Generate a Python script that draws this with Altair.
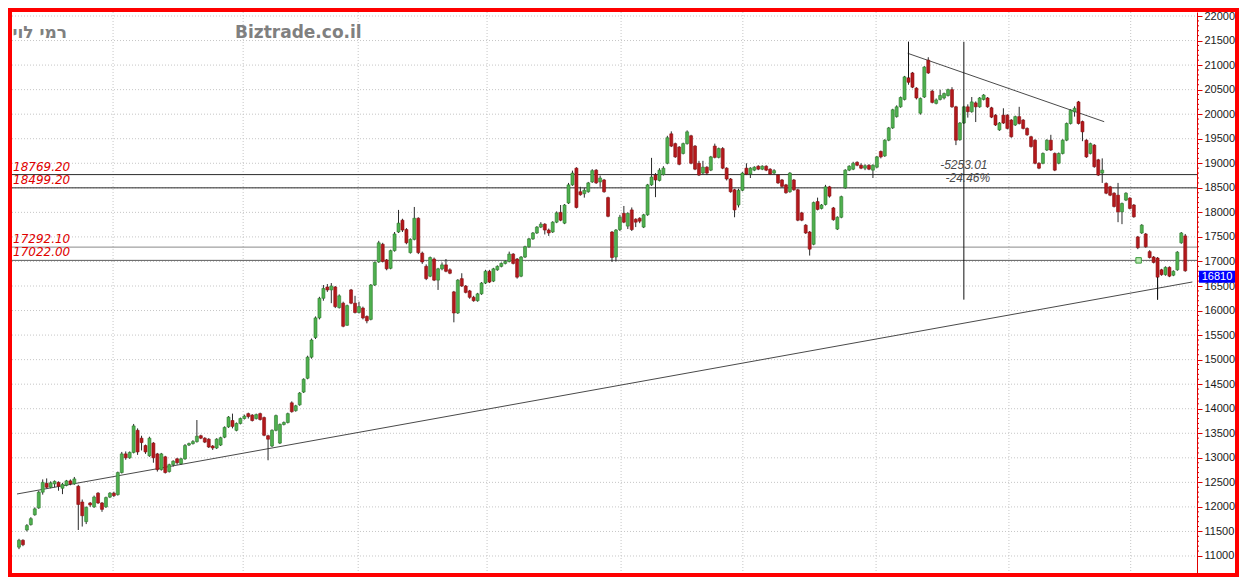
import altair as alt
import pandas as pd

# ---------------- data ----------------
OPEN = [
    11180, 11320, 11530, 11640, 11840, 11980, 12300, 12480, 12400, 12470,
    12500, 12380, 12440, 12530, 12470, 12420, 12100, 11700, 12080, 12000,
    12280, 12080, 12000, 12200, 12280, 12250, 12700, 13080, 13000, 13110,
    13560, 13400, 13250, 13040, 13300, 13080, 12760, 13020, 12720, 12860,
    12980, 12880, 12980, 13260, 13290, 13330, 13450, 13400, 13380, 13240,
    13200, 13260, 13420, 13630, 13760, 13560, 13700, 13800, 13900, 13870,
    13800, 13900, 13820, 13450, 13240, 13560, 13300, 13680, 13720, 14120,
    13960, 14080, 14340, 14620, 15050, 15450, 15850, 16250, 16480, 16420,
    16480, 16060, 16150, 15700, 16420, 16150, 15960, 16050, 15880, 15820,
    16520, 16990, 17350, 17030, 16860, 17220, 17600, 17840, 17650, 17180,
    17450, 17880, 17170, 16900, 16700, 17050, 16620, 16850, 16930, 16830,
    16380, 15950, 16650, 16500, 16400, 16270, 16200, 16340, 16560, 16800,
    16600, 16830, 16900, 16960, 17000, 17150, 17050, 16700, 17090, 17300,
    17460, 17580, 17700, 17760, 17640, 17600, 17800, 18000, 17780, 18190,
    18560, 18900, 18420, 18380, 18420, 18620, 18860, 18620, 18660, 18300,
    17600, 17090, 17650, 17980, 17720, 18050, 17860, 17880, 17700, 17950,
    18560, 18760, 18650, 18770, 19000, 19600, 19400, 19330, 19200, 19400,
    19560, 19350, 19000, 18800, 18920, 18860, 19350, 19120, 19300, 18900,
    18680, 18460, 18150, 18450, 18900, 18780, 18860, 18940, 18880, 18940,
    18880, 18800, 18760, 18660, 18560, 18420, 18660, 18460, 17990, 17740,
    17600, 17350, 18220, 18080, 18160, 18520, 18090, 17660, 17900, 18500,
    18860, 18880, 19020, 18960, 18900, 18960, 18860, 18920, 19240, 19150,
    19470, 19720, 19950, 20150, 20300, 20740, 20840, 20530, 20020, 20350,
    21100, 20470, 20220, 20300, 20330, 20380, 20500, 20150, 19480, 19820,
    20150, 20050, 20230, 20150, 20300, 20330, 20130, 19980, 19680, 19980,
    19980, 19880, 19780, 19950, 19880, 19710, 19540, 19470, 19000, 19000,
    19270, 19470, 19200, 19000, 19200, 19470, 19810, 20050, 20250, 19850,
    19470, 19200, 19370, 19070, 18800, 18590, 18520, 18390, 18350, 18010,
    18250, 18290, 18150, 17500, 17580, 17560, 17200, 17090, 17070, 16830,
    16730, 16880, 16720, 16830, 17380, 17520,
]
CLOSE = [
    11320, 11230, 11620, 11760, 11960, 12300, 12500, 12400, 12490, 12520,
    12420, 12460, 12530, 12470, 12570, 12050, 11820, 11990, 12040, 12200,
    12080, 11950, 12190, 12280, 12230, 12700, 13080, 13000, 13110, 13650,
    13120, 13310, 13120, 13400, 13000, 12760, 13080, 12700, 12860, 12930,
    12900, 12980, 13250, 13290, 13330, 13440, 13400, 13320, 13220, 13200,
    13380, 13410, 13620, 13830, 13640, 13700, 13800, 13850, 13840, 13760,
    13880, 13780, 13460, 13380, 13560, 13860, 13680, 13720, 13900, 13940,
    14060, 14320, 14600, 15050, 15400, 15850, 16250, 16450, 16420, 16500,
    16080, 16300, 15680, 16100, 16150, 15960, 16080, 15850, 15790, 16520,
    16980, 17380, 17000, 16850, 17220, 17560, 17780, 17640, 17380, 17450,
    17880, 17180, 16990, 16650, 17080, 16620, 16850, 16930, 16800, 16760,
    15950, 16620, 16500, 16370, 16270, 16200, 16340, 16560, 16800, 16580,
    16850, 16900, 16960, 17000, 17150, 16960, 16680, 17090, 17300, 17460,
    17580, 17700, 17760, 17640, 17580, 17800, 17990, 17840, 18150, 18560,
    18800, 18100, 18360, 18450, 18600, 18850, 18600, 18700, 18420, 17920,
    17080, 17640, 17900, 17800, 17980, 17650, 17800, 17820, 17950, 18560,
    18720, 18660, 18860, 18900, 19520, 19350, 19130, 18980, 19400, 19640,
    19000, 18880, 18760, 18920, 18800, 19130, 19120, 19300, 18900, 18680,
    18420, 18050, 18450, 18800, 18780, 18900, 18920, 18880, 18940, 18860,
    18780, 18850, 18600, 18530, 18400, 18800, 18460, 17840, 17840, 17580,
    17250, 18200, 18060, 18150, 18520, 18330, 17850, 17900, 18320, 18860,
    18940, 19000, 18960, 18900, 18950, 18880, 18960, 19130, 19130, 19470,
    19720, 20090, 20150, 20340, 20760, 20650, 20550, 20330, 20320, 20960,
    20840, 20240, 20290, 20380, 20420, 20500, 20150, 19470, 19820, 20150,
    20050, 20250, 20150, 20330, 20390, 20150, 19940, 19780, 19820, 19820,
    19710, 19540, 19950, 19810, 19710, 19580, 19340, 19000, 18900, 19200,
    19470, 19270, 18860, 19200, 19470, 19810, 20080, 20120, 19810, 19640,
    19130, 19400, 18930, 18760, 18860, 18390, 18350, 18120, 18010, 18180,
    18390, 18080, 17910, 17280, 17740, 17300, 17080, 16980, 16680, 16730,
    16880, 16700, 16800, 17190, 17580, 16810,
]
HIGH = [
    11350, 11340, 11650, 11790, 11990, 12330, 12560, 12580, 12520, 12540,
    12520, 12490, 12550, 12560, 12610, 12450, 12150, 12010, 12100, 12230,
    12300, 12100, 12210, 12300, 12310, 12720, 13120, 13130, 13130, 13690,
    13600, 13450, 13270, 13430, 13320, 13100, 13100, 13040, 12880, 12950,
    13000, 13000, 13280, 13310, 13360, 13770, 13470, 13420, 13400, 13260,
    13400, 13430, 13640, 13850, 13900, 13720, 13820, 13880, 13920, 13890,
    13900, 13920, 13840, 13470, 13580, 13880, 13700, 13740, 13920, 14150,
    14080, 14340, 14620, 15080, 15430, 15880, 16280, 16520, 16540, 16560,
    16500, 16330, 16180, 16120, 16440, 16300, 16180, 16080, 15900, 16540,
    17000, 17420, 17380, 17050, 17240, 17600, 18050, 17870, 17680, 17470,
    18110, 17900, 17200, 16940, 17100, 17080, 16870, 16980, 17050, 16860,
    16400, 16640, 16760, 16520, 16420, 16300, 16360, 16580, 16830, 16830,
    16870, 16920, 16980, 17020, 17200, 17170, 17070, 17110, 17320, 17480,
    17600, 17720, 17800, 17780, 17670, 17820, 18020, 18150, 18170, 18600,
    18850, 18920, 18520, 18500, 18620, 18880, 18880, 18750, 18680, 18320,
    17620, 17660, 17950, 18130, 18000, 18100, 17880, 17900, 17970, 18580,
    19110, 18800, 18900, 18940, 19560, 19650, 19420, 19350, 19420, 19670,
    19580, 19370, 19050, 19050, 18940, 19150, 19400, 19320, 19330, 18920,
    18700, 18480, 18480, 18820, 19000, 18920, 18940, 18960, 18960, 18960,
    18900, 18880, 18780, 18680, 18580, 18820, 18680, 18480, 18010, 17760,
    17620, 18220, 18300, 18170, 18560, 18540, 18110, 17920, 18340, 18880,
    18960, 19030, 19040, 19000, 18980, 18980, 18980, 19150, 19260, 19490,
    19740, 20110, 20180, 20360, 20780, 21475, 20860, 20550, 20340, 20980,
    21160, 20500, 20320, 20500, 20440, 20520, 20550, 20170, 19840, 20170,
    20200, 20350, 20260, 20350, 20410, 20350, 20150, 20000, 19840, 20120,
    20000, 19900, 19970, 20150, 19900, 19730, 19560, 19490, 19020, 19220,
    19490, 19580, 19220, 19220, 19490, 19830, 20100, 20160, 20270, 19870,
    19490, 19420, 19390, 19090, 19100, 18610, 18540, 18410, 18600, 18200,
    18410, 18310, 18170, 17520, 17760, 17580, 17230, 17110, 17090, 16850,
    16900, 16900, 16820, 17210, 17600, 17560,
]
LOW = [
    11140, 11200, 11500, 11620, 11820, 11960, 12250, 12380, 12380, 12400,
    12330, 12260, 12420, 12440, 12450, 11530, 11600, 11650, 12000, 11980,
    12060, 11900, 11980, 12180, 12200, 12230, 12680, 12960, 12980, 13090,
    13060, 13150, 13080, 13020, 12900, 12720, 12740, 12680, 12700, 12820,
    12860, 12860, 12960, 13240, 13270, 13310, 13380, 13300, 13200, 13160,
    13180, 13240, 13400, 13610, 13600, 13540, 13680, 13780, 13800, 13740,
    13780, 13760, 13440, 12950, 13220, 13540, 13280, 13660, 13700, 13920,
    13940, 14060, 14320, 14600, 15020, 15420, 15820, 16200, 16380, 16150,
    16050, 16040, 15660, 15690, 16130, 15940, 15940, 15820, 15740, 15800,
    16500, 16970, 16980, 16820, 16840, 17200, 17580, 17600, 17350, 17160,
    17430, 17150, 16950, 16620, 16680, 16600, 16420, 16820, 16780, 16740,
    15760, 15930, 16480, 16350, 16240, 16180, 16180, 16320, 16540, 16560,
    16580, 16810, 16880, 16940, 16980, 16940, 16650, 16680, 17070, 17280,
    17440, 17560, 17680, 17550, 17520, 17580, 17780, 17820, 17760, 18170,
    18540, 18080, 18340, 18300, 18400, 18600, 18580, 18520, 18400, 17900,
    16990, 17000, 17620, 17780, 17660, 17620, 17700, 17780, 17680, 17930,
    18540, 18310, 18630, 18750, 18980, 19330, 19110, 18960, 19180, 19380,
    18980, 18860, 18740, 18780, 18760, 18840, 19100, 19100, 18880, 18650,
    18400, 17900, 18100, 18430, 18760, 18700, 18840, 18860, 18860, 18840,
    18760, 18780, 18580, 18500, 18380, 18400, 18440, 17820, 17820, 17560,
    17120, 17330, 18040, 18060, 18140, 18300, 17830, 17640, 17880, 18480,
    18840, 18860, 18940, 18880, 18860, 18860, 18700, 18900, 19100, 19130,
    19450, 19700, 19930, 20130, 20280, 20600, 20530, 20300, 19990, 20330,
    20820, 20220, 20200, 20280, 20300, 20360, 20130, 19370, 19460, 19800,
    19930, 20030, 19840, 20130, 20280, 20130, 19920, 19760, 19660, 19800,
    19690, 19520, 19760, 19790, 19690, 19560, 19320, 18980, 18880, 18980,
    19250, 19250, 18840, 18980, 19180, 19450, 19790, 19950, 19790, 19450,
    19110, 19180, 18910, 18740, 18600, 18370, 18330, 18100, 17800, 17760,
    18230, 18060, 17890, 17250, 17560, 17280, 17060, 16960, 16222, 16710,
    16710, 16680, 16700, 16810, 17360, 16790,
]

Y_TICKS = [11000, 11500, 12000, 12500, 13000, 13500, 14000, 14500, 15000, 15500, 16000,
           16500, 17000, 17500, 18000, 18500, 19000, 19500, 20000, 20500, 21000, 21500, 22000]
MINOR_STEP = 100
PERIOD_BREAKS = [23.8, 56.7, 85.8, 118.4, 152.3, 183.1, 216.8, 250.4, 281.2]

LEVELS = [18769.20, 18499.20, 17292.10, 17022.00]
LEVEL_TEXT = ["18769.20", "18499.20", "17292.10", "17022.00"]

UP_TREND_I = [-0.5, 296.8]
UP_TREND_V = [12263, 16582]
DOWN_TREND_I = [224.8, 274.5]
DOWN_TREND_V = [21240, 19847]

MEASURE_I = 239
MEASURE_HIGH = 21475.0
MEASURE_LOW = 16222.0
MEASURE_DIFF = "-5253.01"
MEASURE_PCT = "-24.46%"
EXTREME_I = [225, 288]
EXTREME_FROM = [21475, 16680]
EXTREME_TO = [20740, 16222]

MARKER_I = 283.2
MARKER_V = 17022.0
LAST_PRICE = 16810

NAME_TEXT = "רמי לוי"
SITE_TEXT = "Biztrade.co.il"

# ---------------- layout ----------------
W, H = 1223, 561
AXIS_X = 1185
xs = alt.Scale(domain=[-0.502, 306.32], nice=False, zero=False)
ys = alt.Scale(domain=[10653.7, 22081.5], nice=False, zero=False)

AX = alt.Axis(
    orient="right", offset=AXIS_X - W, values=Y_TICKS, format="d", grid=False,
    domainColor="#e00000", domainWidth=1, tickColor="#e00000", tickSize=5,
    labelFont="Liberation Sans", labelFontSize=11, labelColor="#1a1a1a",
    labelPadding=2, labelFlush=False, title=None)

UP_FILL, UP_EDGE = "#4fb04f", "#2c7a2c"
DN_FILL, DN_EDGE = "#b3191c", "#8c0d10"

candles = pd.DataFrame({
    "i": list(range(len(OPEN))),
    "open": OPEN, "close": CLOSE, "high": HIGH, "low": LOW,
})
candles["dir"] = ["up" if c >= o else "down" for o, c in zip(OPEN, CLOSE)]


def X(f):
    return alt.X(f, scale=xs, axis=None)


def Y(f):
    return alt.Y(f, scale=ys, axis=AX)


hgrid = alt.Chart(pd.DataFrame({"v": Y_TICKS})).mark_rule(
    color="#c6c6c6", strokeDash=[1, 2], strokeWidth=1
).encode(y=Y("v:Q"), x=alt.value(0), x2=alt.value(AXIS_X))

minor_vals = [v for v in range(Y_TICKS[0], Y_TICKS[-1] + 1, MINOR_STEP) if v not in Y_TICKS]
minor = alt.Chart(pd.DataFrame({"v": minor_vals})).mark_rule(
    color="#e00000", strokeWidth=1
).encode(y=Y("v:Q"), x=alt.value(AXIS_X), x2=alt.value(AXIS_X + 2))

vgrid = alt.Chart(pd.DataFrame({"i": PERIOD_BREAKS})).mark_rule(
    color="#c6c6c6", strokeDash=[1, 2], strokeWidth=1
).encode(x=X("i:Q"), y=alt.value(0), y2=alt.value(H))

lv = pd.DataFrame({"v": LEVELS, "t": LEVEL_TEXT})
level_lines = alt.Chart(lv).mark_rule().encode(
    y=Y("v:Q"), x=alt.value(0), x2=alt.value(AXIS_X),
    color=alt.Color("t:N", scale=alt.Scale(domain=LEVEL_TEXT,
                    range=["#2a2a2a", "#2a2a2a", "#8a8a8a", "#5a5a5a"]), legend=None),
    strokeWidth=alt.StrokeWidth("t:N", scale=alt.Scale(domain=LEVEL_TEXT,
                                range=[1, 1, 2, 1.6]), legend=None),
)
level_text = alt.Chart(lv).mark_text(
    font="DejaVu Sans", fontStyle="italic", fontSize=12, color="#e00000",
    align="left", baseline="alphabetic", dy=-4
).encode(x=alt.value(1), y=Y("v:Q"), text="t:N")

trends = pd.DataFrame({
    "i": UP_TREND_I + DOWN_TREND_I,
    "v": UP_TREND_V + DOWN_TREND_V,
    "k": ["up", "up", "down", "down"],
})
trend_lines = alt.Chart(trends).mark_line(color="#4a4a4a", strokeWidth=1).encode(
    x=X("i:Q"), y=Y("v:Q"), detail="k:N")

dir_scale_edge = alt.Scale(domain=["up", "down"], range=[UP_EDGE, DN_EDGE])
dir_scale_fill = alt.Scale(domain=["up", "down"], range=[UP_FILL, DN_FILL])

wicks = alt.Chart(candles).mark_rule(strokeWidth=1).encode(
    x=X("i:Q"), y=Y("low:Q"), y2="high:Q",
    color=alt.Color("dir:N", scale=dir_scale_edge, legend=None))

bodies = alt.Chart(candles).mark_bar(width=3, strokeWidth=0.6).encode(
    x=X("i:Q"), y=Y("open:Q"), y2="close:Q",
    fill=alt.Fill("dir:N", scale=dir_scale_fill, legend=None),
    stroke=alt.Stroke("dir:N", scale=dir_scale_edge, legend=None))

measure = alt.Chart(pd.DataFrame({"i": [MEASURE_I], "a": [MEASURE_HIGH], "b": [MEASURE_LOW]})
                    ).mark_rule(color="#111111", strokeWidth=1).encode(
    x=X("i:Q"), y=Y("a:Q"), y2="b:Q")

extremes = alt.Chart(pd.DataFrame({"i": EXTREME_I, "a": EXTREME_FROM, "b": EXTREME_TO})
                     ).mark_rule(color="#111111", strokeWidth=1).encode(
    x=X("i:Q"), y=Y("a:Q"), y2="b:Q")

mid = (MEASURE_HIGH + MEASURE_LOW) / 2
mdf = pd.DataFrame({"i": [MEASURE_I], "v": [mid], "d": [MEASURE_DIFF], "p": [MEASURE_PCT]})
mtext_style = dict(font="Liberation Sans", fontStyle="italic", fontSize=12,
                   color="#4a4a4a", align="center", baseline="middle")
mtext1 = alt.Chart(mdf).mark_text(dy=-6, **mtext_style).encode(
    x=X("i:Q"), y=Y("v:Q"), text="d:N")
mtext2 = alt.Chart(mdf).mark_text(dy=7, dx=4, **mtext_style).encode(
    x=X("i:Q"), y=Y("v:Q"), text="p:N")

marker = alt.Chart(pd.DataFrame({"i": [MARKER_I], "v": [MARKER_V]})).mark_square(
    size=30, fill="#b8e6b2", stroke="#3a9a3a", strokeWidth=1, opacity=1
).encode(x=X("i:Q"), y=Y("v:Q"))

lp = pd.DataFrame({"v": [LAST_PRICE], "t": [str(LAST_PRICE)]})
price_box = alt.Chart(lp).mark_rule(color="#0000ff", strokeWidth=12, yOffset=6,
                                    strokeCap="butt").encode(
    x=alt.value(AXIS_X + 2), x2=alt.value(W), y=Y("v:Q"))
price_text = alt.Chart(lp).mark_text(
    font="Liberation Sans", fontSize=11, color="white", align="center",
    baseline="middle", dy=6
).encode(x=alt.value(AXIS_X + 20), y=Y("v:Q"), text="t:N")

site = alt.Chart(pd.DataFrame({"t": [SITE_TEXT]})).mark_text(
    font="DejaVu Sans", fontWeight="bold", fontSize=17, color="#808080",
    align="left", baseline="alphabetic"
).encode(x=alt.value(223), y=alt.value(26), text="t:N")
name = alt.Chart(pd.DataFrame({"t": [NAME_TEXT]})).mark_text(
    font="DejaVu Sans", fontWeight="bold", fontSize=17, color="#808080",
    align="right", baseline="alphabetic"
).encode(x=alt.value(55), y=alt.value(26), text="t:N")

chart = alt.layer(
    hgrid, vgrid, minor, level_lines, trend_lines, wicks, bodies, measure, extremes,
    level_text, mtext1, mtext2, marker, price_box, price_text, site, name
).properties(
    width=W, height=H,
    background="#ff0000",
    padding={"left": 4, "top": 4, "right": 4, "bottom": 4},
    autosize=alt.AutoSizeParams(type="none"),
).configure_view(fill="white", stroke=None)

chart.save("out.html", embed_options={"renderer": "svg", "actions": False})
